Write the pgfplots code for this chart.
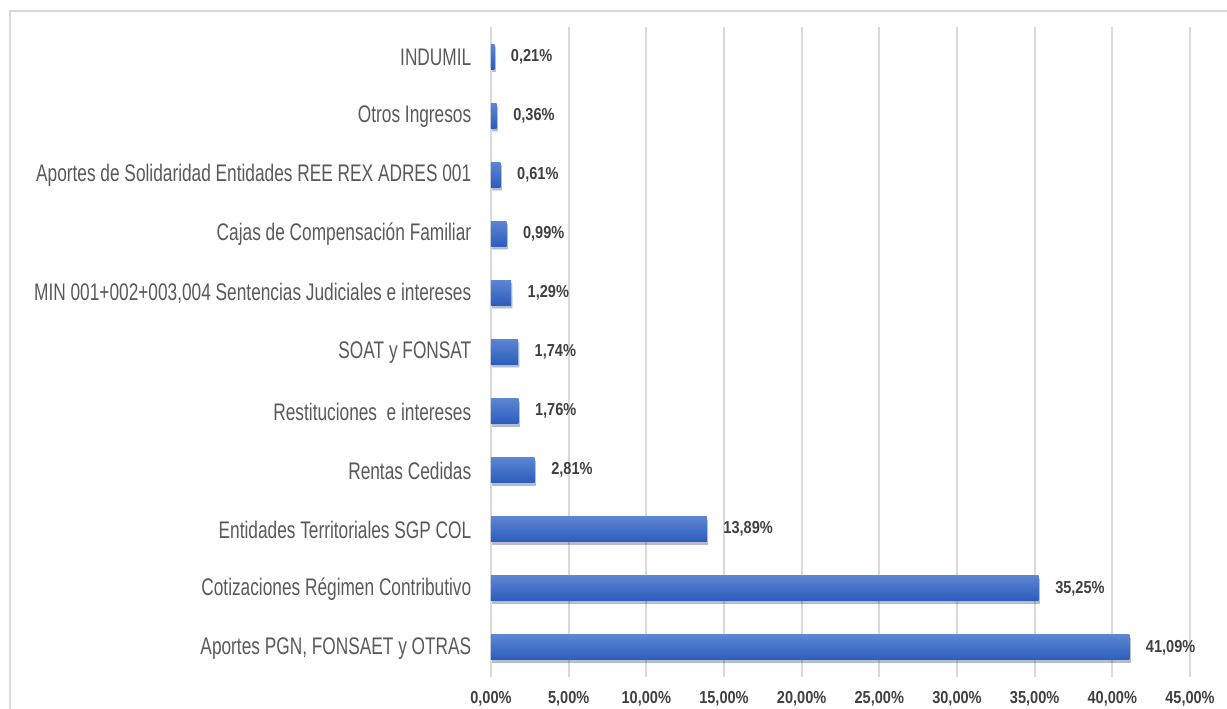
\documentclass[border=0pt]{standalone}
\usepackage{fontspec}
\setmainfont{Liberation Sans}
\newfontfamily\catfont[FakeStretch=0.72]{Liberation Sans}
\newfontfamily\lblfont[FakeStretch=0.84]{Liberation Sans Bold}
\usepackage{pgfplots}
\pgfplotsset{compat=1.18}
\definecolor{gridc}{HTML}{D9D9D9}
\definecolor{cattext}{HTML}{595959}
\definecolor{lbltext}{HTML}{404040}
\definecolor{bartop}{HTML}{5C85D2}
\definecolor{barbot}{HTML}{2C5DBC}
\pgfplotsset{onebar/.style={draw=none, top color=bartop, bottom color=barbot, bar shift=0pt,
  preaction={fill=black, fill opacity=0.18, transform canvas={xshift=1pt,yshift=-2.2pt}}}}
\begin{document}
\begin{tikzpicture}[x=1pt,y=1pt]
\useasboundingbox (-368.25,-23.25) rectangle (552,507.75);
\draw[gridc, line width=1.3pt] (-360.75,-40) -- (-360.75,499.5) -- (570,499.5);
\begin{axis}[
  at={(0,0)}, anchor=south west,
  scale only axis, width=524.25pt, height=487.5pt,
  xmin=0, xmax=45, ymin=-0.5, ymax=10.5,
  xtick={0,5,...,45},
  ytick={0,...,10},
  yticklabels={{Aportes PGN, FONSAET y OTRAS},{Cotizaciones Régimen Contributivo},{Entidades Territoriales SGP COL},{Rentas Cedidas},{Restituciones\ \ e intereses},{SOAT y FONSAT},{MIN 001+002+003,004 Sentencias Judiciales e intereses},{Cajas de Compensación Familiar},{Aportes de Solidaridad Entidades REE REX ADRES 001},{Otros Ingresos},{INDUMIL}},
  /pgf/number format/assume math mode=true,
  xticklabel={\pgfmathprintnumber[fixed,fixed zerofill,precision=2,use comma]{\tick}\%},
  xticklabel style={font=\lblfont\fontsize{13}{15}\selectfont, text=lbltext, yshift=-7pt},
  yticklabel style={font=\catfont\fontsize{18}{20}\selectfont, text=cattext, xshift=-7pt, yshift=-0.5pt},
  axis line style={draw=none},
  major tick style={draw=none},
  xmajorgrids, ymajorgrids=false,
  major grid style={gridc, line width=1.5pt},
  xbar, bar width=18.75pt,
  point meta=x,
  nodes near coords={\pgfmathprintnumber[fixed,fixed zerofill,precision=2,use comma]{\pgfplotspointmeta}\%},
  nodes near coords style={font=\lblfont\fontsize{13}{15}\selectfont, text=lbltext, anchor=west, xshift=9pt},
]
\addplot[onebar] coordinates {(41.09,0)};
\addplot[onebar] coordinates {(35.25,1)};
\addplot[onebar] coordinates {(13.89,2)};
\addplot[onebar] coordinates {(2.81,3)};
\addplot[onebar] coordinates {(1.76,4)};
\addplot[onebar] coordinates {(1.74,5)};
\addplot[onebar] coordinates {(1.29,6)};
\addplot[onebar] coordinates {(0.99,7)};
\addplot[onebar] coordinates {(0.61,8)};
\addplot[onebar] coordinates {(0.36,9)};
\addplot[onebar] coordinates {(0.21,10)};
\end{axis}
\end{tikzpicture}
\end{document}
